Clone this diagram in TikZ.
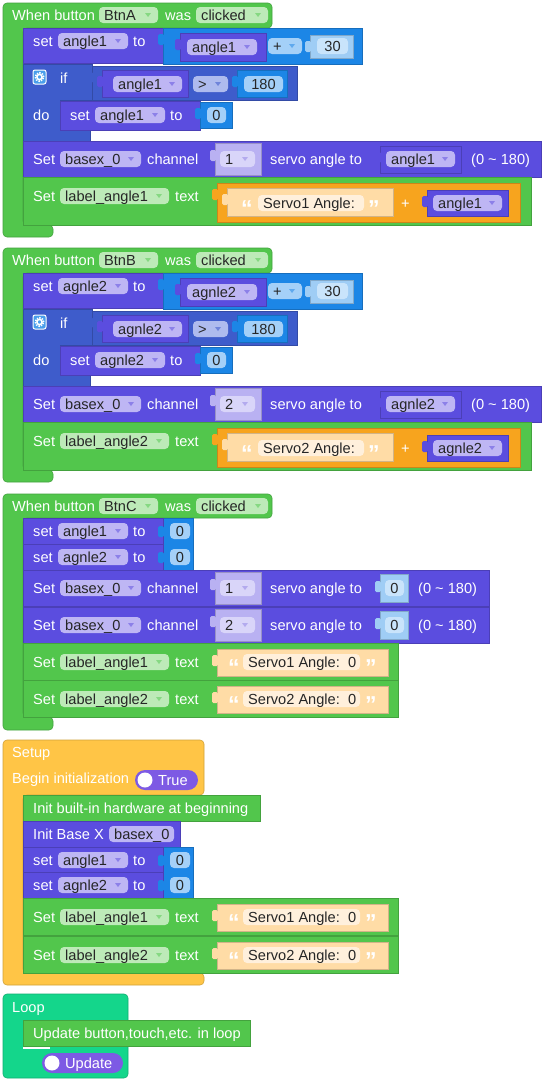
\documentclass[tikz,border=0pt]{standalone}
\usepackage{fontspec}
\setmainfont{Liberation Sans}
\usetikzlibrary{positioning}

\definecolor{evgreen}{HTML}{52C64C}
\definecolor{fg}{HTML}{BDEAB8}
\definecolor{ag}{HTML}{86D882}
\definecolor{stpurple}{HTML}{5B4DDF}
\definecolor{fp}{HTML}{BEB6F4}
\definecolor{ap}{HTML}{8C80E8}
\definecolor{mathblue}{HTML}{1C86E6}
\definecolor{fb}{HTML}{A4D0F8}
\definecolor{ab}{HTML}{5FA9EE}
\definecolor{ifblue}{HTML}{3E5CCB}
\definecolor{fc}{HTML}{AEBBEE}
\definecolor{ac}{HTML}{6F84DA}
\definecolor{shadowp}{HTML}{B9B1F2}
\definecolor{fs}{HTML}{D9D5F9}
\definecolor{as}{HTML}{B3AAEE}
\definecolor{shadowb}{HTML}{9FCDF5}
\definecolor{shadowbf}{HTML}{C9E4FB}
\definecolor{joinorange}{HTML}{F7A41E}
\definecolor{txtorange}{HTML}{FFDCA6}
\definecolor{txtfield}{HTML}{FFF0DC}
\definecolor{setupyellow}{HTML}{FFC546}
\definecolor{loopteal}{HTML}{14D68B}
\definecolor{togglepurple}{HTML}{7D5AE4}

\newcommand{\fsz}{\fontsize{14.6}{17}\selectfont}
% block body, label, dropdown field, plain field, text field, value tab, quote
\newcommand{\bk}[5]{\filldraw[bk=#1] (#2,#3) rectangle (#4,#5);}
\newcommand{\lb}[4]{\node[ltxt] (#1) at (#2,#3) {#4};}
\newcommand{\dd}[6]{\fill[f#2, rounded corners=4pt] (#3,#5-8) rectangle (#4,#5+8);
  \node[ftxt, anchor=west] (#1) at (#3+5,#5) {#6};
  \fill[a#2] (#4-13,#5-2) -- ++(6,0) -- ++(-3,4) -- cycle;}
\newcommand{\nf}[6]{\fill[#2, rounded corners=4pt] (#3,#5-8) rectangle (#4,#5+8);
  \node[ftxt] (#1) at ({(#3+#4)/2},#5) {#6};}
\newcommand{\tf}[6]{\fill[#2, rounded corners=4pt] (#3,#5-8) rectangle (#4,#5+8);
  \node[ftxt, anchor=west] (#1) at (#3+5,#5) {#6};}
\newcommand{\tab}[3]{\fill[#1, rounded corners=1.5pt] (#2-5,#3+4) rectangle (#2+1,#3+15);}
\newcommand{\qt}[4]{\node[qtxt] (#1) at (#2,#3+14) {#4};}

\begin{document}
\begin{tikzpicture}[x=1pt, y=-1pt,
    bk/.style={fill=#1, draw=#1!82!black, line width=0.6pt},
    ltxt/.style={text=white, anchor=west, inner sep=0pt, text height=10.5pt, text depth=0pt, font=\fsz},
    ftxt/.style={text=black!85, inner sep=0pt, text height=10.5pt, text depth=0pt, font=\fsz},
    qtxt/.style={text=white, anchor=base west, inner sep=0pt, font=\fontsize{23}{23}\selectfont\bfseries}]
  \useasboundingbox[fill=white] (0,0) rectangle (547,1084);

  % --- button A / button B events
  \foreach \oy/\btn/\vr/\chn/\lab/\srv in {0/BtnA/angle1/1/label\_angle1/Servo1,
      245/BtnB/agnle2/2/label\_angle2/Servo2} {
    \begin{scope}[shift={(0,\oy)}]
      \filldraw[bk=evgreen, rounded corners=4pt] (3,3) -- (272,3) -- (272,28) -- (23,28)
        -- (23,225) -- (53,225) -- (53,237) -- (3,237) -- cycle;
      \lb{when\btn}{12}{15}{When button}
      \dd{btn\btn}{g}{99}{158}{15}{\btn}
      \lb{was\btn}{165}{15}{was}
      \dd{clk\btn}{g}{196}{268}{15}{clicked}
      % set var to var + 30
      \bk{stpurple}{23}{28}{163}{63}
      \lb{set\btn}{33}{41}{set}
      \dd{sv\btn}{p}{58}{128}{41}{\vr}
      \lb{to\btn}{133}{41}{to}
      \bk{mathblue}{163}{28}{362}{64}
      \tab{mathblue}{163}{30}
      \bk{stpurple}{180}{33}{266}{61}
      \tab{stpurple}{180}{35}
      \dd{sum\btn}{p}{187}{257}{47}{\vr}
      \dd{op\btn}{b}{268}{302}{46}{+}
      \bk{shadowb}{310}{35}{353}{58}
      \tab{shadowb}{310}{37}
      \nf{thirty\btn}{shadowbf}{317}{348}{46}{30}
      % if var > 180
      \filldraw[bk=ifblue] (23,64) -- (92,64) -- (92,100) -- (60,100) -- (60,130)
        -- (90,130) -- (90,141) -- (23,141) -- cycle;
      \filldraw[fill=mathblue!80!white, draw=white, line width=1pt, rounded corners=2pt] (33,70) rectangle (46,84);
      \draw[white, line width=1.5pt] (39.5,77) circle (2.6pt);
      \draw[white, line width=1.6pt, dash pattern=on 1.4pt off 1.2pt] (39.5,77) circle (4.2pt);
      \lb{if\btn}{60}{78}{if}
      \bk{ifblue}{92}{66}{297}{100}
      \tab{ifblue}{92}{68}
      \bk{stpurple}{102}{70}{188}{97}
      \tab{stpurple}{102}{72}
      \dd{cmp\btn}{p}{113}{182}{84}{\vr}
      \dd{gt\btn}{c}{193}{228}{84}{>}
      \bk{mathblue}{237}{70}{287}{97}
      \tab{mathblue}{237}{72}
      \nf{lim\btn}{fb}{244}{283}{84}{180}
      \lb{do\btn}{33}{115}{do}
      \bk{stpurple}{60}{101}{200}{130}
      \lb{dset\btn}{70}{115}{set}
      \dd{dv\btn}{p}{95}{165}{115}{\vr}
      \lb{dto\btn}{170}{115}{to}
      \bk{mathblue}{200}{102}{232}{128}
      \tab{mathblue}{200}{104}
      \nf{zero\btn}{fb}{207}{226}{115}{0}
      % servo
      \bk{stpurple}{23}{141}{541}{177}
      \lb{srvset\btn}{33}{159}{Set}
      \dd{base\btn}{p}{60}{141}{159}{basex\_0}
      \lb{chl\btn}{147}{159}{channel}
      \bk{shadowp}{215}{143}{261}{175}
      \tab{shadowp}{215}{146}
      \dd{ch\btn}{s}{220}{255}{159}{\chn}
      \lb{ang\btn}{270}{159}{servo angle to}
      \bk{stpurple}{380}{146}{461}{173}
      \tab{stpurple}{380}{148}
      \dd{av\btn}{p}{386}{455}{159}{\vr}
      \lb{rng\btn}{471}{159}{(0 \textasciitilde{} 180)}
      % label text
      \bk{evgreen}{23}{177}{531}{225}
      \lb{lset\btn}{33}{196}{Set}
      \dd{lab\btn}{g}{60}{169}{196}{\lab}
      \lb{ltxt\btn}{175}{196}{text}
      \bk{joinorange}{217}{183}{520}{222}
      \tab{joinorange}{217}{185}
      \bk{txtorange}{227}{188}{393}{216}
      \tab{txtorange}{227}{190}
      \qt{oq\btn}{241}{202}{“}
      \tf{str\btn}{txtfield}{258}{364}{203}{\srv{} Angle:}
      \qt{cq\btn}{368}{202}{”}
      \lb{plus\btn}{401}{203}{+}
      \bk{stpurple}{427}{190}{508}{216}
      \tab{stpurple}{427}{192}
      \dd{jv\btn}{p}{433}{502}{203}{\vr}
    \end{scope}
  }

  % --- button C event
  \filldraw[bk=evgreen, rounded corners=4pt] (3,494) -- (272,494) -- (272,518) -- (23,518)
    -- (23,717) -- (53,717) -- (53,730) -- (3,730) -- cycle;
  \lb{whenC}{12}{506}{When button}
  \dd{btnC}{g}{99}{158}{506}{BtnC}
  \lb{wasC}{165}{506}{was}
  \dd{clkC}{g}{196}{268}{506}{clicked}
  \bk{mathblue}{163}{518}{193}{570}
  \foreach \ry/\vr in {518/angle1, 544/agnle2} {
    \bk{stpurple}{23}{\ry}{163}{\ry+26}
    \lb{rs\vr}{33}{\ry+13}{set}
    \dd{rv\vr}{p}{58}{128}{\ry+13}{\vr}
    \lb{rt\vr}{133}{\ry+13}{to}
    \tab{mathblue}{163}{\ry+4}
    \nf{rz\vr}{fb}{170}{190}{\ry+13}{0}
  }
  \foreach \ry/\chn in {570/1, 607/2} {
    \bk{stpurple}{23}{\ry}{489}{\ry+36}
    \lb{rsS\chn}{33}{\ry+18}{Set}
    \dd{rbase\chn}{p}{60}{141}{\ry+18}{basex\_0}
    \lb{rchl\chn}{147}{\ry+18}{channel}
    \bk{shadowp}{215}{\ry+2}{261}{\ry+34}
    \tab{shadowp}{215}{\ry+5}
    \dd{rch\chn}{s}{220}{255}{\ry+18}{\chn}
    \lb{rang\chn}{270}{\ry+18}{servo angle to}
    \bk{shadowb}{380}{\ry+4}{408}{\ry+32}
    \tab{shadowb}{380}{\ry+7}
    \nf{rzero\chn}{shadowbf}{385}{404}{\ry+18}{0}
    \lb{rrng\chn}{418}{\ry+18}{(0 \textasciitilde{} 180)}
  }
  \foreach \ry/\lab/\srv in {643/label\_angle1/Servo1, 680/label\_angle2/Servo2} {
    \bk{evgreen}{23}{\ry}{398}{\ry+37}
    \lb{rls\srv}{33}{\ry+19}{Set}
    \dd{rlab\srv}{g}{60}{169}{\ry+19}{\lab}
    \lb{rlt\srv}{175}{\ry+19}{text}
    \bk{txtorange}{217}{\ry+6}{388}{\ry+33}
    \tab{txtorange}{217}{\ry+8}
    \qt{roq\srv}{228}{\ry+18}{“}
    \tf{rstr\srv}{txtfield}{243}{360}{\ry+19}{\srv{} Angle:~~0}
    \qt{rcq\srv}{365}{\ry+18}{”}
  }

  % --- setup
  \filldraw[bk=setupyellow, rounded corners=4pt] (3,740) -- (204,740) -- (204,795) -- (23,795)
    -- (23,973) -- (204,973) -- (204,985) -- (3,985) -- cycle;
  \lb{setup}{12}{752}{Setup}
  \lb{begin}{12}{778}{Begin initialization}
  \fill[togglepurple, rounded corners=10pt] (135,770) rectangle (198,790);
  \fill[white] (145,780) circle (7.5pt);
  \lb{true}{158}{780}{True}
  \bk{evgreen}{23}{795}{260}{821}
  \lb{hw}{33}{808}{Init built-in hardware at beginning}
  \bk{stpurple}{23}{821}{180}{847}
  \lb{initx}{33}{834}{Init Base X}
  \tf{basex}{fp}{109}{174}{834}{basex\_0}
  \bk{mathblue}{163}{847}{193}{898}
  \foreach \ry/\vr in {847/angle1, 872/agnle2} {
    \bk{stpurple}{23}{\ry}{163}{\ry+26}
    \lb{ss\vr}{33}{\ry+13}{set}
    \dd{sv\vr}{p}{58}{128}{\ry+13}{\vr}
    \lb{st\vr}{133}{\ry+13}{to}
    \tab{mathblue}{163}{\ry+4}
    \nf{sz\vr}{fb}{170}{190}{\ry+13}{0}
  }
  \foreach \ry/\lab/\srv in {898/label\_angle1/Servo1, 936/label\_angle2/Servo2} {
    \bk{evgreen}{23}{\ry}{398}{\ry+37}
    \lb{sls\srv}{33}{\ry+19}{Set}
    \dd{slab\srv}{g}{60}{169}{\ry+19}{\lab}
    \lb{slt\srv}{175}{\ry+19}{text}
    \bk{txtorange}{217}{\ry+6}{388}{\ry+33}
    \tab{txtorange}{217}{\ry+8}
    \qt{soq\srv}{228}{\ry+18}{“}
    \tf{sstr\srv}{txtfield}{243}{360}{\ry+19}{\srv{} Angle:~~0}
    \qt{scq\srv}{365}{\ry+18}{”}
  }

  % --- loop
  \filldraw[bk=loopteal, rounded corners=4pt] (3,994) rectangle (128,1078);
  \fill[white] (23,1046) rectangle (50,1049);
  \lb{loop}{12}{1007}{Loop}
  \bk{evgreen}{23}{1020}{250}{1046}
  \lb{upd}{33}{1033}{Update button,touch,etc. in loop}
  \fill[togglepurple, rounded corners=10pt] (42,1053) rectangle (123,1073);
  \fill[white] (52,1063) circle (7.5pt);
  \lb{update}{65}{1063}{Update}
\end{tikzpicture}
\end{document}
